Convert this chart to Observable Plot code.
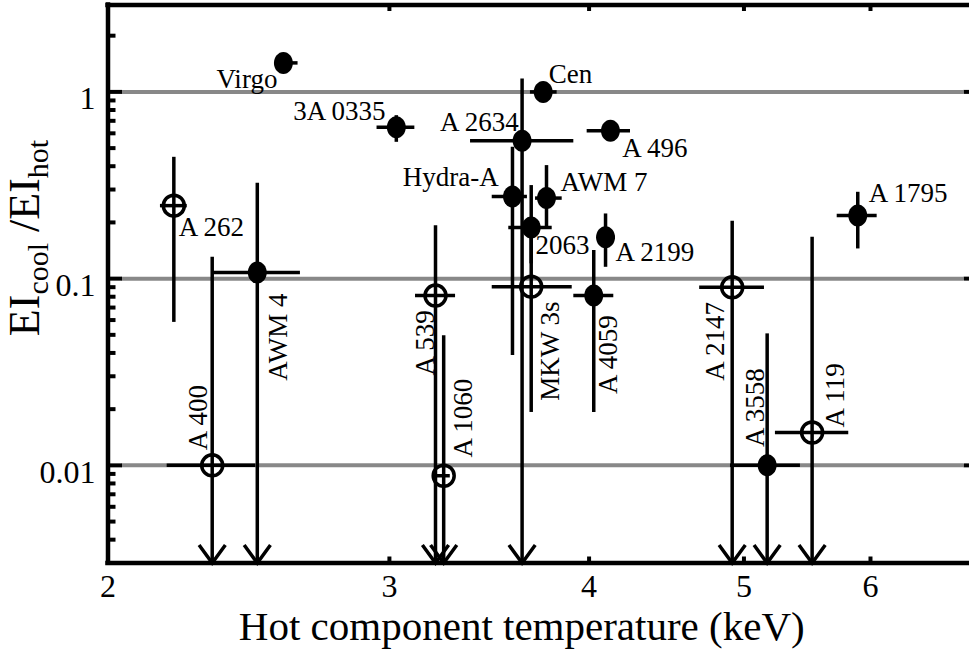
<!DOCTYPE html>
<html>
<head>
<meta charset="utf-8">
<script src="https://cdn.jsdelivr.net/npm/d3@7"></script>
<script src="https://cdn.jsdelivr.net/npm/@observablehq/plot@0.6"></script>
<style>
  html, body { margin: 0; padding: 0; background: #fff; }
  #chart { width: 969px; height: 653px; }
  #chart svg, #chart svg text { font-family: "Liberation Serif", "Times New Roman", serif; }
</style>
</head>
<body>
<div id="chart"></div>
<script>
// Cluster sample: hot-phase temperature (keV) and cool/hot emission-integral ratio
const clusters = ["Virgo", "3A 0335", "Cen", "A 2634", "Hydra-A", "AWM 7", "A 2063", "MKW 3s", "A 496", "A 2199",
                  "A 4059", "A 539", "A 1060", "A 262", "AWM 4", "A 400", "A 2147", "A 3558", "A 119", "A 1795"];
const kT      = [2.575, 3.03, 3.744, 3.632, 3.582, 3.762, 3.68, 3.68, 4.125, 4.096,
                 4.027, 3.206, 3.244, 2.199, 2.48, 2.324, 4.916, 5.17, 5.516, 5.891];
const kTLow   = [2.55, 2.947, 3.676, 3.372, 3.479, 3.703, 3.563, 3.479, 3.989, 4.047,
                 3.913, 3.115, 3.215, 2.157, 2.324, 2.178, 4.691, 4.904, 5.232, 5.719];
const kTHigh  = [2.63, 3.112, 3.82, 3.913, 3.66, 3.848, 3.793, 3.904, 4.246, 4.155,
                 4.145, 3.30, 3.275, 2.242, 2.639, 2.474, 5.15, 5.424, 5.815, 6.058];
const ratio   = [1.43, 0.646, 1.0, 0.548, 0.275, 0.27, 0.188, 0.0906, 0.62, 0.1665,
                 0.0811, 0.0811, 0.0088, 0.246, 0.108, 0.01, 0.0898, 0.01, 0.015, 0.2175];
// null: the lower bound is consistent with zero (bar runs down to the axis with an arrow)
const ratioLow  = [1.36, 0.537, 0.95, null, 0.0387, 0.188, 0.12, 0.0192, 0.59, 0.115,
                   0.0192, null, null, 0.0583, null, null, null, null, null, 0.1442];
const ratioHigh = [1.50, 0.746, 1.05, 1.174, 0.505, 0.403, 0.315, 0.188, 0.65, 0.222,
                   0.1413, 0.1922, 0.0495, 0.4464, 0.324, 0.130, 0.2027, 0.0506, 0.1665, 0.29];
// solid marker = two-temperature fit preferred; open = not required
const solid = [true, true, true, true, true, true, true, false, true, true,
               true, false, false, false, true, false, false, true, false, true];
// label texts as printed next to each point
const labelText = ["Virgo", "3A 0335", "Cen", "A 2634", "Hydra-A", "AWM 7", "2063", "MKW 3s", "A 496", "A 2199",
                   "A 4059", "A 539", "A 1060", "A 262", "AWM 4", "A 400", "A 2147", "A 3558", "A 119", "A 1795"];

const xTickValues = [2, 3, 4, 5, 6];
const yTickValues = [0.01, 0.1, 1];
const yTickLabels = ["0.01", "0.1", "1"];

const xDomain = [2, 6.92];
const yDomain = [0.003, 2.92];

// label placement: pixel offsets from the point, anchor, rotation
const labelPlacement = [
  {dx: -6, dy: 25, anchor: "end", rotate: 0},      // Virgo
  {dx: -10.7, dy: -7.7, anchor: "end", rotate: 0}, // 3A 0335
  {dx: 5.6, dy: -9, anchor: "start", rotate: 0},   // Cen
  {dx: -3.4, dy: -9.5, anchor: "end", rotate: 0},  // A 2634
  {dx: -13.7, dy: -11, anchor: "end", rotate: 0},  // Hydra-A
  {dx: 14, dy: -7.3, anchor: "start", rotate: 0},  // AWM 7
  {dx: 4.3, dy: 26.6, anchor: "start", rotate: 0}, // 2063
  {dx: 27.6, dy: 114, anchor: "start", rotate: -90}, // MKW 3s
  {dx: 11.7, dy: 26.7, anchor: "start", rotate: 0}, // A 496
  {dx: 10, dy: 23.3, anchor: "start", rotate: 0},  // A 2199
  {dx: 23.7, dy: 98.3, anchor: "start", rotate: -90}, // A 4059
  {dx: -1.7, dy: 80, anchor: "start", rotate: -90},   // A 539
  {dx: 28.4, dy: -18.3, anchor: "start", rotate: -90}, // A 1060
  {dx: 5, dy: 30, anchor: "start", rotate: 0},     // A 262
  {dx: 30, dy: 108.3, anchor: "start", rotate: -90},  // AWM 4
  {dx: -5, dy: -15, anchor: "start", rotate: -90},    // A 400
  {dx: -8.4, dy: 93.3, anchor: "start", rotate: -90}, // A 2147
  {dx: -3.4, dy: -18.3, anchor: "start", rotate: -90}, // A 3558
  {dx: 31.6, dy: -5, anchor: "start", rotate: -90},   // A 119
  {dx: 11, dy: -13.3, anchor: "start", rotate: 0}  // A 1795
];

const rows = clusters.map((name, i) => ({
  name,
  t: kT[i], tLo: kTLow[i], tHi: kTHigh[i],
  r: ratio[i],
  rLo: ratioLow[i] == null ? yDomain[0] : ratioLow[i],
  rHi: ratioHigh[i],
  limit: ratioLow[i] == null,
  solid: solid[i],
  label: labelText[i]
}));

// minor log ticks (2..9 in each decade) inside the y range
const yMinor = [];
for (const d of [0.001, 0.01, 0.1, 1]) {
  for (let k = 2; k <= 9; k++) {
    const v = d * k;
    if (v >= yDomain[0] && v <= yDomain[1]) yMinor.push(v);
  }
}

// custom symbols: straight tick strokes, downward chevron, tall ellipse
const len = (size) => Math.sqrt(size / Math.PI);
const tickRightward = {draw(c, s) { const l = len(s); c.moveTo(0, 0); c.lineTo(l, 0); }};
const tickLeftward  = {draw(c, s) { const l = len(s); c.moveTo(0, 0); c.lineTo(-l, 0); }};
const tickDownward  = {draw(c, s) { const l = len(s); c.moveTo(0, 0); c.lineTo(0, l); }};
const tickUpward    = {draw(c, s) { const l = len(s); c.moveTo(0, 0); c.lineTo(0, -l); }};
const chevron = {draw(c, s) {
  const l = len(s);
  c.moveTo(-0.73 * l, -l); c.lineTo(0, 0); c.lineTo(0.73 * l, -l);
}};
const ellipse = {draw(c, s) {
  const ry = len(s), rx = ry * 0.86, k = 0.5523;
  c.moveTo(rx, 0);
  c.bezierCurveTo(rx, ry * k, rx * k, ry, 0, ry);
  c.bezierCurveTo(-rx * k, ry, -rx, ry * k, -rx, 0);
  c.bezierCurveTo(-rx, -ry * k, -rx * k, -ry, 0, -ry);
  c.bezierCurveTo(rx * k, -ry, rx, -ry * k, rx, 0);
  c.closePath();
}};

const font = "Liberation Serif, Times New Roman, serif";
const barWidth = 3.5;

const labelMarks = rows.map((row, i) => {
  const p = labelPlacement[i];
  return Plot.text([row], {
    x: "t", y: "r", text: "label",
    dx: p.dx, dy: p.dy, rotate: p.rotate,
    textAnchor: p.anchor, lineAnchor: "bottom",
    fontSize: 27, fontFamily: font, fill: "black"
  });
});

const chart = Plot.plot({
  width: 969,
  height: 653,
  marginLeft: 107.5,
  marginRight: 0,
  marginTop: 4.5,
  marginBottom: 90.5,
  style: {background: "white", color: "black"},
  x: {type: "log", domain: xDomain, axis: null},
  y: {type: "log", domain: yDomain, axis: null},
  marks: [
    // gray reference lines at the decades
    Plot.ruleY(yTickValues, {stroke: "#888", strokeWidth: 4, insetLeft: 14, insetRight: 6}),
    // frame: left, bottom and top edges
    Plot.ruleX([xDomain[0]], {stroke: "black", strokeWidth: 4.5, strokeLinecap: "square"}),
    Plot.ruleY([yDomain[0], yDomain[1]], {stroke: "black", strokeWidth: 4.5, strokeLinecap: "square"}),
    // inward ticks
    Plot.dot(yTickValues, {y: d => d, frameAnchor: "left", symbol: tickRightward, r: 14, stroke: "black", strokeWidth: 4, fill: "none"}),
    Plot.dot(yMinor, {y: d => d, frameAnchor: "left", symbol: tickRightward, r: 7.5, stroke: "black", strokeWidth: 4, fill: "none"}),
    Plot.dot(yTickValues, {y: d => d, frameAnchor: "right", symbol: tickLeftward, r: 6, stroke: "black", strokeWidth: 4, fill: "none"}),
    Plot.dot(xTickValues.slice(1), {x: d => d, frameAnchor: "top", symbol: tickDownward, r: 6, stroke: "black", strokeWidth: 4, fill: "none"}),
    Plot.dot(xTickValues.slice(1), {x: d => d, frameAnchor: "bottom", symbol: tickUpward, r: 6.5, stroke: "black", strokeWidth: 4, fill: "none"}),
    // error bars
    Plot.ruleY(rows, {y: "r", x1: "tLo", x2: "tHi", stroke: "black", strokeWidth: barWidth}),
    Plot.ruleX(rows, {x: "t", y1: "rLo", y2: "rHi", stroke: "black", strokeWidth: barWidth}),
    // arrowheads for bars reaching zero
    Plot.dot(rows.filter(d => d.limit), {x: "t", frameAnchor: "bottom", symbol: chevron, r: 18, stroke: "black", strokeWidth: barWidth, fill: "none", strokeLinejoin: "miter"}),
    // markers
    Plot.dot(rows.filter(d => d.solid), {x: "t", y: "r", symbol: ellipse, r: 11, fill: "black", stroke: "none"}),
    Plot.dot(rows.filter(d => !d.solid), {x: "t", y: "r", symbol: "circle", r: 10.5, fill: "none", stroke: "black", strokeWidth: 3.5}),
    ...labelMarks,
    // tick labels
    Plot.axisY(yTickValues, {anchor: "left", tickSize: 0, tickPadding: 12.5, fontSize: 32, fontFamily: font, dy: 7.3, label: null,
      tickFormat: d => yTickLabels[yTickValues.indexOf(d)]}),
    Plot.axisX(xTickValues, {anchor: "bottom", tickSize: 0, tickPadding: 11, fontSize: 32, fontFamily: font, label: null,
      tickFormat: d => String(d)}),
    // x title
    Plot.text(["Hot component temperature (keV)"], {text: d => d, frameAnchor: "bottom", dx: -17, dy: 76.5,
      lineAnchor: "bottom", fontSize: 41, fontFamily: font, fill: "black"})
  ]
});

chart.setAttribute("font-family", font);
document.getElementById("chart").appendChild(chart);

// y title with subscripts
const svg = d3.select(chart);
const yTitle = svg.append("text")
  .attr("transform", "translate(39,238) rotate(-90)")
  .attr("text-anchor", "middle")
  .attr("font-family", font)
  .attr("fill", "black");
yTitle.append("tspan").attr("font-size", 44).text("EI");
yTitle.append("tspan").attr("font-size", 30).attr("dy", 9).text("cool");
yTitle.append("tspan").attr("font-size", 44).attr("dy", -9).text(" /EI");
yTitle.append("tspan").attr("font-size", 30).attr("dy", 9).text("hot");
</script>
</body>
</html>
